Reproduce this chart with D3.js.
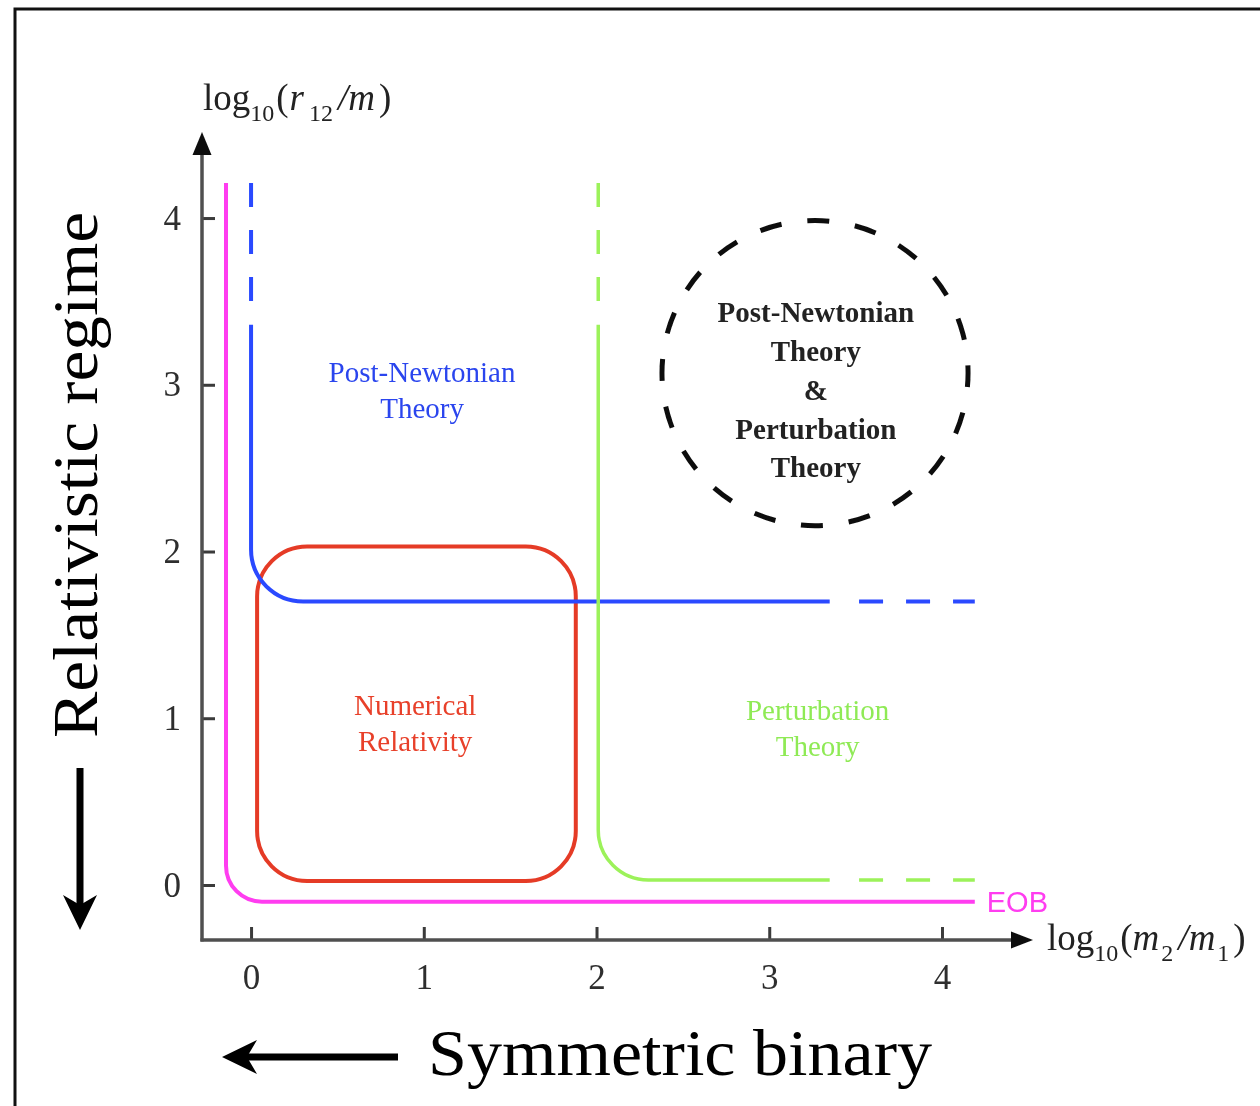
<!DOCTYPE html>
<html>
<head>
<meta charset="utf-8">
<script src="https://cdn.jsdelivr.net/npm/d3@7"></script>
<style>
  html, body { margin: 0; padding: 0; background: #fff; }
  svg { display: block; }
</style>
</head>
<body>
<svg id="chart" width="1260" height="1106"></svg>
<script>
// Axis ticks
const xTicks = [0, 1, 2, 3, 4];
const yTicks = [0, 1, 2, 3, 4];

// Regime boundaries in (log10(m2/m1), log10(r12/m)) space
const eobLine   = [[-0.145, 4.21], [-0.145, -0.10], [4.19, -0.10]];
const pnSolid   = [[0, 3.36], [0, 1.70], [3.35, 1.70]];
const pnDashed  = [[[0, 4.21], [0, 3.50]], [[3.52, 1.70], [4.19, 1.70]]];
const ptSolid   = [[2.01, 3.36], [2.01, 0.03], [3.35, 0.03]];
const ptDashed  = [[[2.01, 4.21], [2.01, 3.50]], [[3.52, 0.03], [4.19, 0.03]]];

// Numerical relativity box: [x0, x1] and [y0, y1]
const nrX = [0.035, 1.88];
const nrY = [0.024, 2.03];

// Overlap region (PN & perturbation theory): centre and radii
const overlapCentre = [3.265, 3.07];
const overlapRadii  = [0.886, 0.915];

// Region labels
const pnLabel  = { lines: ["Post-Newtonian", "Theory"], at: [0.99, 2.97] };
const nrLabel  = { lines: ["Numerical", "Relativity"], at: [0.95, 0.97] };
const ptLabel  = { lines: ["Perturbation", "Theory"], at: [3.28, 0.94] };
const ovLabel  = { lines: ["Post-Newtonian", "Theory", "&", "Perturbation", "Theory"], at: [3.27, 2.97] };
const eobLabel = { text: "EOB", at: [4.19, -0.10] };

const COLORS = {
  pn: "#2a48ff", pt: "#9cf25a", nr: "#e53b26", eob: "#ff3cf0",
  pnText: "#2a45ee", ptText: "#8fea55", nrText: "#e8402a", axis: "#505050"
};

const svg = d3.select("#chart");
const serif = "'Liberation Serif', 'Times New Roman', serif";

// Outer frame (top and left edges)
svg.append("path")
  .attr("d", "M15,1106 L15,9 L1260,9")
  .attr("fill", "none").attr("stroke", "#111").attr("stroke-width", 3);

// Soft look for the figure itself
const defs = svg.append("defs");
defs.append("filter").attr("id", "soft")
  .append("feGaussianBlur").attr("stdDeviation", 0.55);

const x = d3.scaleLinear().domain([-0.284, 4.527]).range([202, 1033]);
const y = d3.scaleLinear().domain([-0.33, 4.516]).range([940, 132]);

const fig = svg.append("g").attr("filter", "url(#soft)");

// Polyline with rounded corners
function rounded(points, r) {
  const pts = points.map(d => [x(d[0]), y(d[1])]);
  const p = d3.path();
  p.moveTo(pts[0][0], pts[0][1]);
  for (let i = 1; i < pts.length - 1; i++) {
    p.arcTo(pts[i][0], pts[i][1], pts[i + 1][0], pts[i + 1][1], r);
  }
  p.lineTo(pts[pts.length - 1][0], pts[pts.length - 1][1]);
  return p.toString();
}
const line = d3.line().x(d => x(d[0])).y(d => y(d[1]));

// Axes
const xAxisY = y.range()[0];
const yAxisX = x.range()[0];

const gx = fig.append("g").attr("transform", `translate(0,${xAxisY})`)
  .call(d3.axisBottom(x).tickValues(xTicks).tickFormat(d3.format("d"))
    .tickSize(-13).tickPadding(24));
const gy = fig.append("g").attr("transform", `translate(${yAxisX},0)`)
  .call(d3.axisLeft(y).tickValues(yTicks).tickFormat(d3.format("d"))
    .tickSize(-13).tickPadding(21));
[gx, gy].forEach(g => {
  g.select(".domain").remove();
  g.selectAll(".tick line").attr("stroke", "#3a3a3a").attr("stroke-width", 3);
  g.selectAll(".tick text").attr("fill", "#2e2e2e").style("font-family", serif).style("font-size", "35px");
});

// Axis lines with arrowheads
const xTip = x.range()[1], yTip = y.range()[1];
fig.append("line").attr("x1", yAxisX - 1.5).attr("y1", xAxisY).attr("x2", xTip - 18).attr("y2", xAxisY)
  .attr("stroke", COLORS.axis).attr("stroke-width", 3.5);
fig.append("line").attr("x1", yAxisX).attr("y1", xAxisY + 1.5).attr("x2", yAxisX).attr("y2", yTip + 20)
  .attr("stroke", COLORS.axis).attr("stroke-width", 3.5);
fig.append("path")
  .attr("d", `M${xTip},${xAxisY} L${xTip - 22},${xAxisY - 8.5} L${xTip - 22},${xAxisY + 8.5} Z`)
  .attr("fill", "#111");
fig.append("path")
  .attr("d", `M${yAxisX},${yTip} L${yAxisX - 9.5},${yTip + 23} L${yAxisX + 9.5},${yTip + 23} Z`)
  .attr("fill", "#111");

// Axis titles
function axisTitle(tx, ty, parts) {
  const t = fig.append("text").attr("x", tx).attr("y", ty)
    .style("font-family", serif).attr("fill", "#222");
  parts.forEach(p => {
    t.append("tspan").text(p.t)
      .attr("dx", p.dx || 0).attr("dy", p.dy || 0)
      .style("font-size", (p.s || 37) + "px")
      .style("font-style", p.i ? "italic" : "normal");
  });
}
axisTitle(203, 110, [
  { t: "log" }, { t: "10", s: 24, dy: 11 }, { t: "(", dy: -11, dx: 2 },
  { t: "r", i: true, dx: 1 }, { t: "12", s: 24, dy: 11, dx: 5 },
  { t: "/", i: true, dy: -11, dx: 5 }, { t: "m", i: true }, { t: ")", dx: 4 }
]);
axisTitle(1047, 950, [
  { t: "log" }, { t: "10", s: 24, dy: 11 }, { t: "(", dy: -11, dx: 2 },
  { t: "m", i: true }, { t: "2", s: 24, dy: 11, dx: 2 },
  { t: "/", i: true, dy: -11, dx: 5 }, { t: "m", i: true }, { t: "1", s: 24, dy: 11, dx: 2 },
  { t: ")", dy: -11, dx: 4 }
]);

// Numerical relativity box
fig.append("rect")
  .attr("x", x(nrX[0])).attr("y", y(nrY[1]))
  .attr("width", x(nrX[1]) - x(nrX[0])).attr("height", y(nrY[0]) - y(nrY[1]))
  .attr("rx", 50).attr("ry", 50)
  .attr("fill", "none").attr("stroke", COLORS.nr).attr("stroke-width", 4);

// EOB boundary
fig.append("path").attr("d", rounded(eobLine, 36))
  .attr("fill", "none").attr("stroke", COLORS.eob).attr("stroke-width", 4);

// Post-Newtonian boundary
fig.append("path").attr("d", rounded(pnSolid, 52))
  .attr("fill", "none").attr("stroke", COLORS.pn).attr("stroke-width", 4);
pnDashed.forEach(seg => fig.append("path").attr("d", line(seg))
  .attr("fill", "none").attr("stroke", COLORS.pn).attr("stroke-width", 4)
  .attr("stroke-dasharray", "24 23"));

// Perturbation theory boundary
fig.append("path").attr("d", rounded(ptSolid, 50))
  .attr("fill", "none").attr("stroke", COLORS.pt).attr("stroke-width", 3.5);
ptDashed.forEach(seg => fig.append("path").attr("d", line(seg))
  .attr("fill", "none").attr("stroke", COLORS.pt).attr("stroke-width", 3.5)
  .attr("stroke-dasharray", "24 23"));

// Overlap region
fig.append("ellipse")
  .attr("cx", x(overlapCentre[0])).attr("cy", y(overlapCentre[1]))
  .attr("rx", x(overlapRadii[0]) - x(0)).attr("ry", y(0) - y(overlapRadii[1]))
  .attr("fill", "none").attr("stroke", "#111").attr("stroke-width", 5)
  .attr("stroke-dasharray", "22 26").attr("stroke-dashoffset", 8);

// Region labels
function block(lbl, color, spacing, bold) {
  const n = lbl.lines.length;
  const cy = y(lbl.at[1]);
  const t = fig.append("text").attr("text-anchor", "middle")
    .style("font-family", serif).style("font-size", "29px")
    .style("font-weight", bold ? "bold" : "normal").attr("fill", color);
  lbl.lines.forEach((s, i) => {
    t.append("tspan").attr("x", x(lbl.at[0]))
      .attr("y", cy + (i - (n - 1) / 2) * spacing + 10).text(s);
  });
}
block(pnLabel, COLORS.pnText, 36, false);
block(nrLabel, COLORS.nrText, 36, false);
block(ptLabel, COLORS.ptText, 36, false);
block(ovLabel, "#222", 38.75, true);

fig.append("text").attr("x", x(eobLabel.at[0]) + 12).attr("y", y(eobLabel.at[1]) + 10)
  .style("font-family", "'Liberation Sans', Arial, sans-serif").style("font-size", "29px")
  .attr("fill", COLORS.eob).text(eobLabel.text);

// Side annotations
svg.append("text")
  .attr("transform", "translate(97,738) rotate(-90)")
  .style("font-family", serif).style("font-size", "64px").attr("fill", "#000")
  .attr("textLength", 526).attr("lengthAdjust", "spacingAndGlyphs")
  .text("Relativistic regime");
svg.append("rect").attr("x", 76.5).attr("y", 768).attr("width", 7).attr("height", 140).attr("fill", "#000");
svg.append("path").attr("d", "M80,930 L63,895 L80,905 L97,895 Z").attr("fill", "#000");

svg.append("text")
  .attr("x", 428).attr("y", 1075)
  .style("font-family", serif).style("font-size", "66px").attr("fill", "#000")
  .attr("textLength", 504).attr("lengthAdjust", "spacingAndGlyphs")
  .text("Symmetric binary");
svg.append("rect").attr("x", 246).attr("y", 1053.5).attr("width", 152).attr("height", 7).attr("fill", "#000");
svg.append("path").attr("d", "M222,1057 L257,1040 L247,1057 L257,1074 Z").attr("fill", "#000");
</script>
</body>
</html>
